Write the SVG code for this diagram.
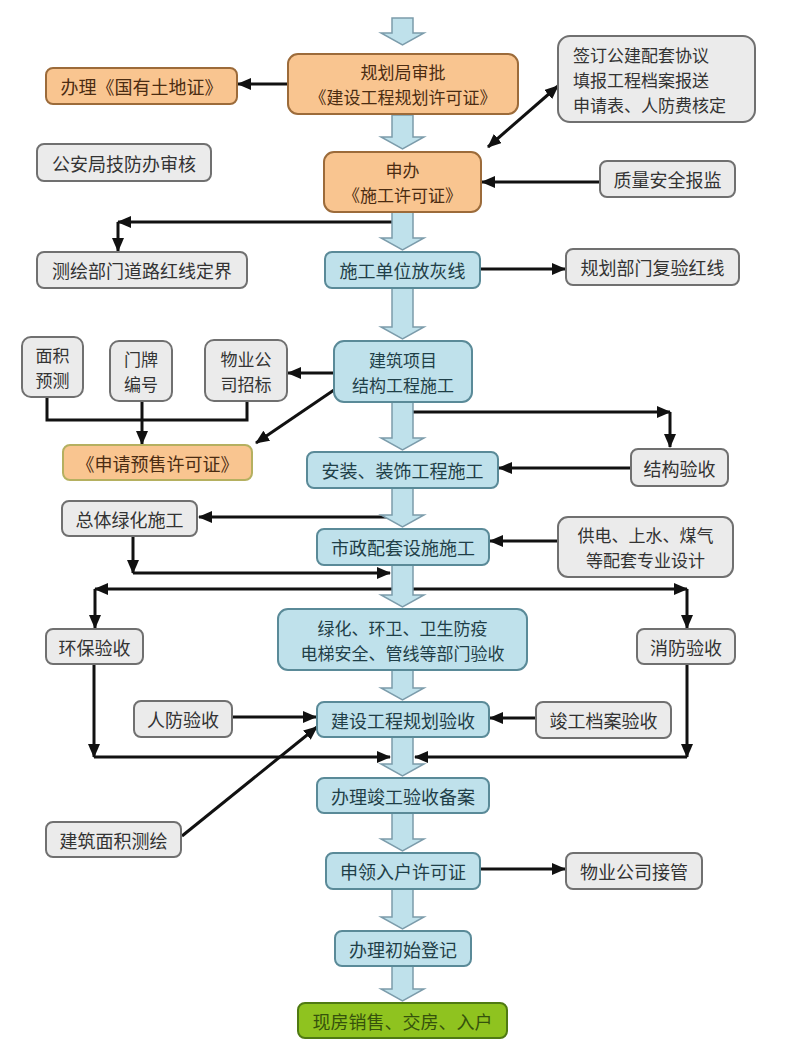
<svg xmlns="http://www.w3.org/2000/svg" width="788" height="1052" viewBox="0 0 788 1052">
<style>
text{font-family:"Noto Sans CJK SC","Noto Sans",sans-serif;font-size:18px;dominant-baseline:central;text-anchor:middle}
text.m{font-size:17px}
.or rect{fill:#f9c590;stroke:#9c6b3a;stroke-width:2}
.or text{fill:#4b2c12}
.bl rect{fill:#bfe1eb;stroke:#5a8a98;stroke-width:2}
.bl text{fill:#1f3f48}
.gr rect{fill:#ebebeb;stroke:#707070;stroke-width:2}
.gr text{fill:#333333}
.gn rect{fill:#8fc31f;stroke:#4f7a12;stroke-width:2}
.gn text{fill:#35520c}
.ys rect{fill:#f9c590;stroke:#b5b060;stroke-width:2}
.ys text{fill:#4b2c12}
.ba{fill:#bfe1eb;stroke:#7c9cab;stroke-width:1.5}
.c{fill:none;stroke:#111;stroke-width:3}
.a{marker-end:url(#ah)}
</style>
<defs>
<marker id="ah" markerUnits="userSpaceOnUse" markerWidth="14" markerHeight="12" refX="13" refY="6" orient="auto-start-reverse" viewBox="0 0 14 12">
<path d="M0,0 L14,6 L0,12 z" fill="#111"/>
</marker>
</defs>
<rect width="788" height="1052" fill="#ffffff"/>

<g id="connectors">
<path class="c a" d="M288,84 L238,84"/>
<path class="c a" d="M488,147 L558,86" marker-start="url(#ah)"/>
<path class="c a" d="M600,182 L482,182"/>
<path class="c a" d="M392,222 L118,222"/>
<path class="c a" d="M118,222 L118,251"/>
<path class="c a" d="M480,269 L565,269"/>
<path class="c a" d="M334,373 L288,373"/>
<path class="c" d="M47,397 L47,420 L247,420 L247,401"/>
<path class="c a" d="M142,402 L142,444"/>
<path class="c a" d="M334,390 L256,443"/>
<path class="c a" d="M413,412 L670,412"/>
<path class="c a" d="M670,412 L670,447"/>
<path class="c a" d="M631,468 L499,468"/>
<path class="c a" d="M392,517 L199,517"/>
<path class="c a" d="M558,541 L490,541"/>
<path class="c a" d="M133,537 L133,573"/>
<path class="c a" d="M133,573 L390,573"/>
<path class="c a" d="M392,589 L95,589"/>
<path class="c a" d="M95,589 L95,628"/>
<path class="c a" d="M413,589 L687,589"/>
<path class="c a" d="M687,589 L687,628"/>
<path class="c a" d="M232,717 L316,717"/>
<path class="c a" d="M536,718 L490,718"/>
<path class="c a" d="M94,665 L94,757"/>
<path class="c a" d="M94,757 L390,757"/>
<path class="c a" d="M687,665 L687,757"/>
<path class="c a" d="M687,757 L415,757"/>
<path class="c a" d="M182,836 L317,727"/>
<path class="c a" d="M480,869 L565,869"/>
</g>

<g id="flow-arrows">
<path class="ba" d="M392,18 H413 V33 H424 L402.5,45 L381,33 H392 Z"/>
<path class="ba" d="M392,115 H413 V137 H424 L402.5,149 L381,137 H392 Z"/>
<path class="ba" d="M392,212 H413 V238 H424 L402.5,250 L381,238 H392 Z"/>
<path class="ba" d="M392,288 H413 V327 H424 L402.5,339 L381,327 H392 Z"/>
<path class="ba" d="M392,402 H413 V438 H424 L402.5,450 L381,438 H392 Z"/>
<path class="ba" d="M392,488 H413 V515 H424 L402.5,527 L381,515 H392 Z"/>
<path class="ba" d="M392,565 H413 V595 H424 L402.5,607 L381,595 H392 Z"/>
<path class="ba" d="M392,670 H413 V688 H424 L402.5,700 L381,688 H392 Z"/>
<path class="ba" d="M392,737 H413 V764 H424 L402.5,776 L381,764 H392 Z"/>
<path class="ba" d="M392,813 H413 V839 H424 L402.5,851 L381,839 H392 Z"/>
<path class="ba" d="M392,889 H413 V917 H424 L402.5,929 L381,917 H392 Z"/>
<path class="ba" d="M392,966 H413 V989 H424 L402.5,1001 L381,989 H392 Z"/>
</g>

<g id="n-guihuaju" class="or"><rect x="288" y="54" width="230" height="60" rx="10"/><text class="m" x="403" y="71.5">规划局审批</text><text class="m" x="403" y="96.5">《建设工程规划许可证》</text></g>
<g id="n-tudizheng" class="or"><rect x="46" y="68" width="191" height="36" rx="7"/><text x="141.5" y="86">办理《国有土地证》</text></g>
<g id="n-qianding" class="gr"><rect x="558" y="36" width="197" height="86" rx="12"/><text class="m" x="573" y="54" style="text-anchor:start">签订公建配套协议</text><text class="m" x="573" y="79" style="text-anchor:start">填报工程档案报送</text><text class="m" x="573" y="104" style="text-anchor:start">申请表、人防费核定</text></g>
<g id="n-gongan" class="gr"><rect x="37" y="144" width="174" height="37" rx="7"/><text x="124" y="162.5">公安局技防办审核</text></g>
<g id="n-shenban" class="or"><rect x="324" y="152" width="157" height="60" rx="10"/><text class="m" x="402.5" y="169.5">申办</text><text class="m" x="402.5" y="194.5">《施工许可证》</text></g>
<g id="n-zhiliang" class="gr"><rect x="600" y="161" width="135" height="36" rx="7"/><text x="667.5" y="179">质量安全报监</text></g>
<g id="n-cehui" class="gr"><rect x="37" y="252" width="210" height="36" rx="7"/><text x="142" y="270">测绘部门道路红线定界</text></g>
<g id="n-fanghuixian" class="bl"><rect x="325" y="252" width="155" height="36" rx="7"/><text x="402.5" y="270">施工单位放灰线</text></g>
<g id="n-fuyan" class="gr"><rect x="566" y="249" width="173" height="36" rx="7"/><text x="652.5" y="267">规划部门复验红线</text></g>
<g id="n-jiegou" class="bl"><rect x="334" y="341" width="138" height="61" rx="10"/><text class="m" x="403" y="359">建筑项目</text><text class="m" x="403" y="384">结构工程施工</text></g>
<g id="n-mianji" class="gr"><rect x="22" y="337" width="61" height="60" rx="9"/><text class="m" x="52.5" y="354.5">面积</text><text class="m" x="52.5" y="379.5">预测</text></g>
<g id="n-menpai" class="gr"><rect x="110" y="341" width="62" height="60" rx="9"/><text class="m" x="141" y="358.5">门牌</text><text class="m" x="141" y="383.5">编号</text></g>
<g id="n-wuyezhaobiao" class="gr"><rect x="205" y="340" width="82" height="61" rx="9"/><text class="m" x="246" y="358">物业公</text><text class="m" x="246" y="383">司招标</text></g>
<g id="n-yushou" class="ys"><rect x="63" y="445" width="189" height="35" rx="7"/><text x="157.5" y="462.5">《申请预售许可证》</text></g>
<g id="n-anzhuang" class="bl"><rect x="307" y="452" width="191" height="36" rx="7"/><text x="402.5" y="470">安装、装饰工程施工</text></g>
<g id="n-jiegouyanshou" class="gr"><rect x="631" y="449" width="97" height="37" rx="7"/><text x="679.5" y="467.5">结构验收</text></g>
<g id="n-lvhua" class="gr"><rect x="62" y="501" width="135" height="35" rx="7"/><text x="129.5" y="518.5">总体绿化施工</text></g>
<g id="n-shizheng" class="bl"><rect x="317" y="529" width="172" height="36" rx="7"/><text x="403" y="547">市政配套设施施工</text></g>
<g id="n-gongdian" class="gr"><rect x="558" y="517" width="175" height="60" rx="10"/><text class="m" x="645.5" y="534.5">供电、上水、煤气</text><text class="m" x="645.5" y="559.5">等配套专业设计</text></g>
<g id="n-huanbao" class="gr"><rect x="46" y="629" width="97" height="35" rx="7"/><text x="94.5" y="646.5">环保验收</text></g>
<g id="n-bumen" class="bl"><rect x="278" y="609" width="249" height="61" rx="10"/><text class="m" x="402.5" y="627">绿化、环卫、卫生防疫</text><text class="m" x="402.5" y="652">电梯安全、管线等部门验收</text></g>
<g id="n-xiaofang" class="gr"><rect x="637" y="629" width="98" height="35" rx="7"/><text x="686" y="646.5">消防验收</text></g>
<g id="n-renfang" class="gr"><rect x="134" y="701" width="98" height="36" rx="7"/><text x="183" y="719">人防验收</text></g>
<g id="n-guihuayanshou" class="bl"><rect x="317" y="702" width="172" height="35" rx="7"/><text x="403" y="719.5">建设工程规划验收</text></g>
<g id="n-dangan" class="gr"><rect x="536" y="702" width="135" height="36" rx="7"/><text x="603.5" y="720">竣工档案验收</text></g>
<g id="n-mianjicehui" class="gr"><rect x="46" y="822" width="135" height="35" rx="7"/><text x="113.5" y="839.5">建筑面积测绘</text></g>
<g id="n-beian" class="bl"><rect x="317" y="778" width="172" height="35" rx="7"/><text x="403" y="795.5">办理竣工验收备案</text></g>
<g id="n-ruhu" class="bl"><rect x="326" y="853" width="154" height="36" rx="7"/><text x="403" y="871">申领入户许可证</text></g>
<g id="n-jieguan" class="gr"><rect x="566" y="853" width="136" height="36" rx="7"/><text x="634" y="871">物业公司接管</text></g>
<g id="n-dengji" class="bl"><rect x="335" y="931" width="136" height="35" rx="7"/><text x="403" y="948.5">办理初始登记</text></g>
<g id="n-xianfang" class="gn"><rect x="298" y="1003" width="209" height="35" rx="7"/><text x="402.5" y="1020.5">现房销售、交房、入户</text></g>
</svg>
